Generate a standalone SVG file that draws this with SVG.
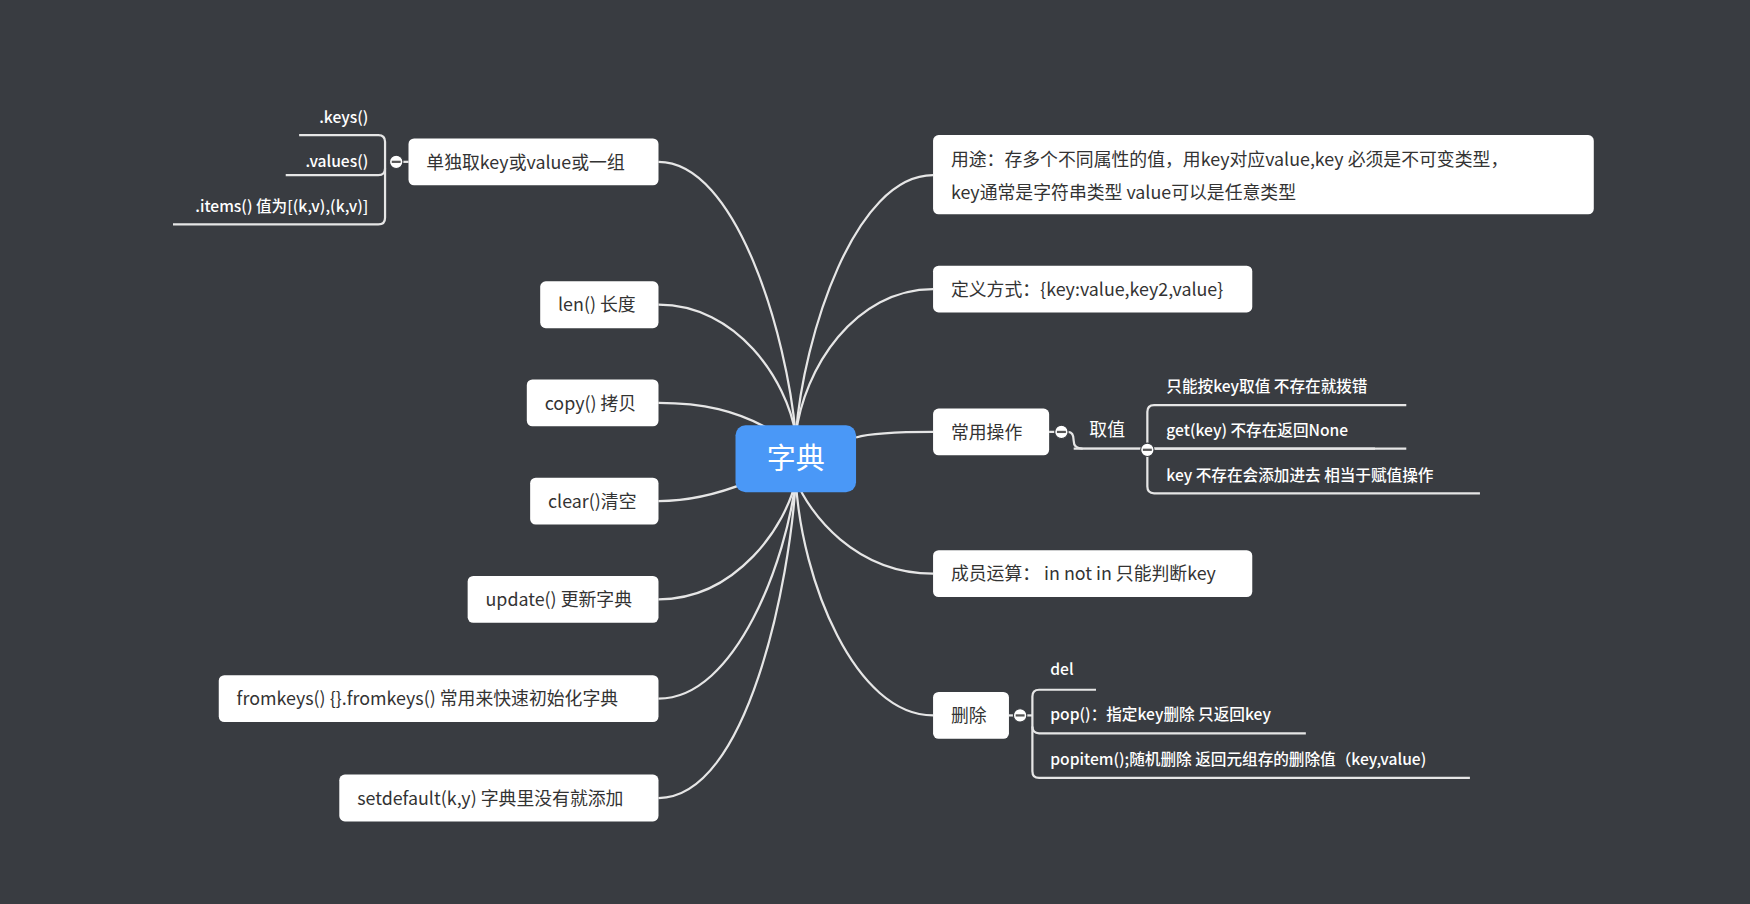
<svg xmlns="http://www.w3.org/2000/svg" width="1750" height="904" viewBox="0 0 1750 904">
<style>
.n{fill:#fff}
.t{font-family:"Noto Sans CJK SC","Noto Sans",sans-serif;font-size:16px;fill:#333}
.s{font-family:"Noto Sans CJK SC","Noto Sans",sans-serif;font-size:14px;fill:#fff;font-weight:500}
.c{fill:none;stroke:#e6e6e6;stroke-width:2}
.d{fill:#fff;stroke:#393c41;stroke-width:1}
</style>
<rect width="1750" height="904" fill="#393c41"/>
<g transform="scale(1.1161)">
<g id="connectors">
<path class="c" d="M590,145 C660,145 705,300 713,390"/>
<path class="c" d="M590,273 C660,273 705,340 713,390"/>
<path class="c" d="M590,361 C630,361 660,368 690,385"/>
<path class="c" d="M590,449 C620,449 650,440 670,432"/>
<path class="c" d="M590,537 C660,537 705,470 713,430"/>
<path class="c" d="M590,626 C660,626 705,500 713,430"/>
<path class="c" d="M590,715 C670,715 708,520 713,430"/>
<path class="c" d="M836,157 C766,157 720,300 713,390"/>
<path class="c" d="M836,259 C766,259 720,330 713,390"/>
<path class="c" d="M836,387 C800,387 780,388 767,392"/>
<path class="c" d="M836,514 C766,514 725,460 713,430"/>
<path class="c" d="M836,641 C766,641 718,520 713,430"/>
<path class="c" d="M366,145 L355,145"/>
<path class="c" d="M268,121 L339,121 Q345,121 345,127 L345,195 Q345,201 339,201 L155,201"/>
<path class="c" d="M256,157 L339,157 Q345,157 345,151"/>
<path class="c" d="M940,387 L951,387 M957,387 Q962,387 962,395 Q962,402 970,402 L1260,402" style="stroke-dasharray:none"/>
<path class="c" d="M1260,363 L1034,363 Q1028,363 1028,369 L1028,436 Q1028,442 1034,442 L1326,442"/>
<path class="c" d="M1028,402 L1232,402"/>
<path class="c" d="M904,641 L925,641"/>
<path class="c" d="M982,618 L931,618 Q925,618 925,624 L925,691 Q925,697 931,697 L1317,697"/>
<path class="c" d="M925,651 Q925,657 931,657 L1170,657"/>
</g>
<rect x="970" y="401" width="60" height="3" fill="#393c41"/>
<path class="c" d="M962,402 L1028,402"/>
<g id="center"><rect x="659" y="381" width="108" height="60" rx="9" fill="#4a98f7"/><text x="713" y="420" text-anchor="middle" style="font-family:'Noto Sans CJK SC',sans-serif;font-size:26px;fill:#fff">字典</text></g>
<g id="n1"><rect class="n" x="366" y="124" width="224" height="42" rx="5"/><text class="t" x="382" y="151">单独取key或value或一组</text>
<circle class="d" cx="355" cy="145" r="6"/><rect x="351" y="144" width="8" height="2" fill="#555"/>
<text class="s" x="330" y="110" text-anchor="end">.keys()</text>
<text class="s" x="330" y="150" text-anchor="end">.values()</text>
<text class="s" x="330" y="190" text-anchor="end">.items() 值为[(k,v),(k,v)]</text></g>
<g id="n2"><rect class="n" x="484" y="252" width="106" height="42" rx="5"/><text class="t" x="500" y="279">len() 长度</text></g>
<g id="n3"><rect class="n" x="472" y="340" width="118" height="42" rx="5"/><text class="t" x="488" y="367">copy() 拷贝</text></g>
<g id="n4"><rect class="n" x="475" y="428" width="115" height="42" rx="5"/><text class="t" x="491" y="455">clear()清空</text></g>
<g id="n5"><rect class="n" x="419" y="516" width="171" height="42" rx="5"/><text class="t" x="435" y="543">update() 更新字典</text></g>
<g id="n6"><rect class="n" x="196" y="605" width="394" height="42" rx="5"/><text class="t" x="212" y="632">fromkeys() {}.fromkeys() 常用来快速初始化字典</text></g>
<g id="n7"><rect class="n" x="304" y="694" width="286" height="42" rx="5"/><text class="t" x="320" y="721">setdefault(k,y) 字典里没有就添加</text></g>
<g id="n8"><rect class="n" x="836" y="121" width="592" height="71" rx="5"/><text class="t" x="852" y="149">用途：存多个不同属性的值，用key对应value,key 必须是不可变类型，</text><text class="t" x="852" y="178">key通常是字符串类型 value可以是任意类型</text></g>
<g id="n9"><rect class="n" x="836" y="238" width="286" height="42" rx="5"/><text class="t" x="852" y="265">定义方式：{key:value,key2,value}</text></g>
<g id="n10"><rect class="n" x="836" y="366" width="104" height="42" rx="5"/><text class="t" x="852" y="393">常用操作</text>
<circle class="d" cx="951" cy="387" r="6"/><rect x="947" y="386" width="8" height="2" fill="#555"/>
<text class="s" x="976" y="391" style="font-size:16px;font-weight:400">取值</text>
<circle class="d" cx="1028" cy="403" r="6"/><rect x="1024" y="402" width="8" height="2" fill="#555"/>
<text class="s" x="1045" y="351">只能按key取值 不存在就拨错</text>
<text class="s" x="1045" y="391">get(key) 不存在返回None</text>
<text class="s" x="1045" y="431">key 不存在会添加进去 相当于赋值操作</text></g>
<g id="n11"><rect class="n" x="836" y="493" width="286" height="42" rx="5"/><text class="t" x="852" y="520">成员运算： in not in 只能判断key</text></g>
<g id="n12"><rect class="n" x="836" y="620" width="68" height="42" rx="5"/><text class="t" x="852" y="647">删除</text>
<circle class="d" cx="914" cy="641" r="6"/><rect x="910" y="640" width="8" height="2" fill="#555"/>
<text class="s" x="941" y="605">del</text>
<text class="s" x="941" y="645">pop()：指定key删除 只返回key</text>
<text class="s" x="941" y="685">popitem();随机删除 返回元组存的删除值（key,value)</text></g>
</g>
</svg>
